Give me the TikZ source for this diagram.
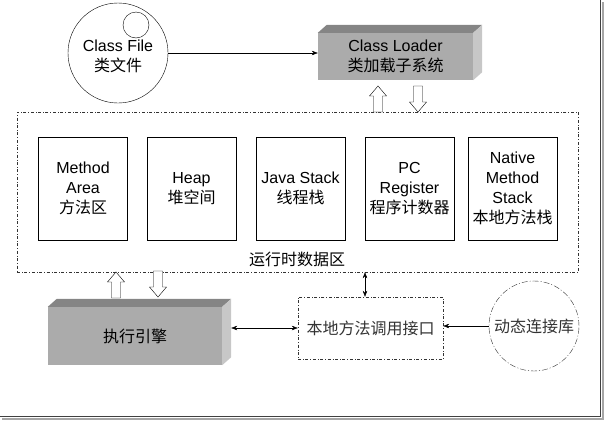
\documentclass[tikz,border=0pt]{standalone}
\usepackage{fontspec}
\setmainfont{Liberation Sans}
\newfontfamily\cjk{Noto Sans CJK SC}
\usetikzlibrary{arrows.meta}
\tikzset{every node/.style={font=\fontsize{16}{20}\selectfont, align=center, inner sep=0pt},
    >={Stealth[length=6pt,width=4.5pt]},
    areabox/.style={draw, minimum width=89pt, minimum height=103pt},
    block/.style={fill=black!33, minimum width=#1, minimum height=47pt},
    dotbox/.style={draw, dash dot, black!80},
    fatarrow/.pic={\draw[fill=white] (-4.5,0) -- (-4.5,-16) -- (-8.5,-16) -- (0,-26)
        -- (8.5,-16) -- (4.5,-16) -- (4.5,0) -- cycle;},
    }
\begin{document}
\begin{tikzpicture}[x=1pt,y=-1pt]
\useasboundingbox (0,0) rectangle (605,421);
% frame shadow
\draw[black!35, line width=2pt] (603,2) -- (603,419) -- (2,419);
\draw[black!75, line width=1pt] (600.5,0) -- (600.5,416.5) -- (0,416.5);
% class file
\node[draw, circle, minimum size=100pt] (file) at (118,53) {};
\node[draw, circle, minimum size=26pt] (filemark) at (136,25) {};
\node (filetext) at (118,56) {Class File\\{\cjk 类文件}};
% class loader
\node[block=155pt] (loader) at (395.5,56.5) {Class Loader\\{\cjk 类加载子系统}};
% execution engine
\node[block=174pt, minimum height=58pt] (engine) at (135,336) {\cjk 执行引擎};
\foreach \b in {loader,engine}{
  \fill[black!48] (\b.north west) -- ([shift={(9,-8)}]\b.north west)
    -- ([shift={(9,-8)}]\b.north east) -- (\b.north east) -- cycle;
  \fill[black!22] (\b.north east) -- ([shift={(9,-8)}]\b.north east)
    -- ([shift={(9,-8)}]\b.south east) -- (\b.south east) -- cycle;
}
% runtime data area
\node[dotbox, minimum width=561pt, minimum height=160pt] (rt) at (297.5,192) {};
\node (rtlabel) at (297,259) {\cjk 运行时数据区};
\node[areabox] (method) at (83,188.5) {Method\\Area\\{\cjk 方法区}};
\node[areabox] (heap) at (191.5,188.5) {Heap\\{\cjk 堆空间}};
\node[areabox] (jstack) at (300.5,188.5) {Java Stack\\{\cjk 线程栈}};
\node[areabox] (pc) at (409.5,188.5) {PC\\Register\\{\cjk 程序计数器}};
\node[areabox] (nstack) at (512.5,188.5) {Native\\Method\\Stack\\{\cjk 本地方法栈}};
% native interface and library
\node[dotbox, minimum width=145pt, minimum height=62pt] (iface) at (370.5,328) {\cjk 本地方法调用接口};
\node[dotbox, circle, minimum size=90pt, dash pattern=on 6pt off 2pt on 1pt off 2pt] (dll) at (534,326) {\cjk 动态连接库};
\coordinate (engside) at ([xshift=9pt]engine.east);
% connectors
\draw[->] (file.east) -- (file.east -| loader.west);
\pic at (378,112) {fatarrow};
\pic[rotate=180] at (418,86) {fatarrow};
\pic at (116,298) {fatarrow};
\pic[rotate=180] at (158,271) {fatarrow};
\draw[<->] (engside |- iface.west) -- (iface.west);
\draw[<->] (iface.north -| 365,0) -- (rt.south -| 365,0);
\draw[->] (dll.west) -- (dll.west -| iface.east);
\end{tikzpicture}
\end{document}
